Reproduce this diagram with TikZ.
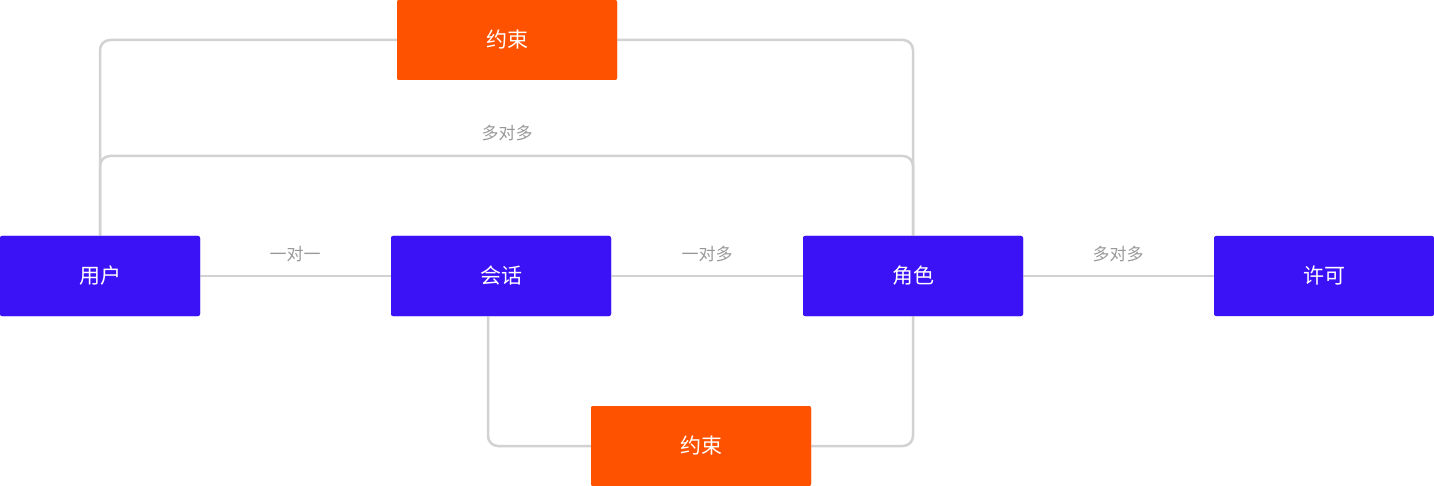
\documentclass[tikz,border=0pt]{standalone}
\usepackage{fontspec}
\setmainfont{Noto Sans CJK SC}
\definecolor{bl}{HTML}{3A12F5}
\definecolor{og}{HTML}{FF5200}
\definecolor{ln}{HTML}{D2D2D2}
\definecolor{lb}{HTML}{999999}
\begin{document}
\begin{tikzpicture}[x=1pt,y=-1pt,
 box/.style={rectangle,rounded corners=2pt,minimum width=200pt,minimum height=80pt,inner sep=0pt,text=white,font=\fontsize{21}{21}\selectfont},
 bb/.style={box,fill=bl},
 ob/.style={box,fill=og,minimum width=220pt},
 cn/.style={draw=ln,line width=2.5pt,rounded corners=10pt},
 lab/.style={text=lb,font=\fontsize{17}{17}\selectfont}]
\useasboundingbox (0,0) rectangle (1434,486);
\node[bb] (u) at (100,276) {用户};
\node[bb,minimum width=220pt] (s) at (501,276) {会话};
\node[bb,minimum width=220pt] (r) at (913,276) {角色};
\node[bb,minimum width=220pt] (p) at (1324,276) {许可};
\node[ob] (c1) at (507,40) {约束};
\node[ob] (c2) at (701,446) {约束};
\begin{scope}[on background layer/.style={}]
\draw[cn] (u.north) -- (100,40) -- (c1.west);
\draw[cn] (c1.east) -- (913,40) -- (r.north);
\draw[cn] (u.north) -- (100,156) -- (913,156) -- (r.north);
\draw[cn] (488,316) -- (488,446) -- (c2.west);
\draw[cn] (c2.east) -- (913,446) -- (r.south);
\draw[cn] (u.east) -- (s.west);
\draw[cn] (s.east) -- (r.west);
\draw[cn] (r.east) -- (p.west);
\end{scope}
\node[bb] at (100,276) {用户};
\node[bb,minimum width=220pt] at (501,276) {会话};
\node[bb,minimum width=220pt] at (913,276) {角色};
\node[ob] at (507,40) {约束};
\node[ob] at (701,446) {约束};
\node[lab] (l0) at (507,133) {多对多};
\node[lab] (l1) at (295,254) {一对一};
\node[lab] (l2) at (707,254) {一对多};
\node[lab] (l3) at (1118,254) {多对多};
\end{tikzpicture}
\end{document}
